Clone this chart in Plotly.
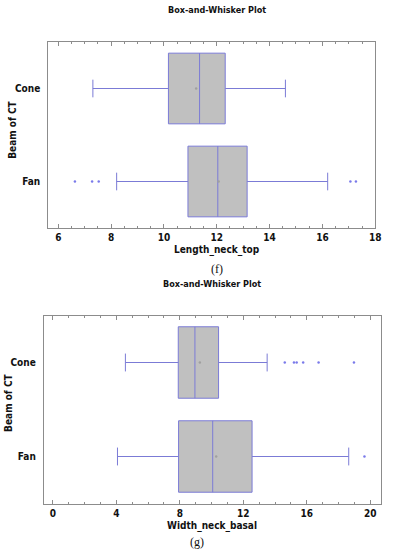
import plotly.graph_objects as go

categories = ["Cone", "Fan"]

# Panel (f): Length_neck_top
f_q1 = [10.17, 10.91]
f_median = [11.35, 12.04]
f_q3 = [12.32, 13.15]
f_low = [7.31, 8.21]
f_high = [14.6, 16.2]
f_mean = [11.22, 12.07]
f_outliers_cone = []
f_outliers_fan = [6.63, 7.28, 7.53, 17.06, 17.27]

# Panel (g): Width_neck_basal
g_q1 = [7.9, 7.92]
g_median = [8.95, 10.07]
g_q3 = [10.44, 12.55]
g_low = [4.57, 4.07]
g_high = [13.5, 18.64]
g_mean = [9.26, 10.29]
g_outliers_cone = [14.61, 15.19, 15.36, 15.77, 16.74, 18.97]
g_outliers_fan = [19.63]

f_ticks = [6, 8, 10, 12, 14, 16, 18]
g_ticks = [0, 4, 8, 12, 16, 20]

BOX_FILL = "#c0c0c0"
BOX_LINE = "#7b7bd6"
OUT_COL = "#7a7aea"
MEAN_COL = "#a0a0a0"
FRAME = "#8c8c8c"
FONT = "DejaVu Sans Condensed, Liberation Sans Narrow, Liberation Sans"

fig = go.Figure()

def add_panel(xa, ya, q1, med, q3, lo, hi, mean, out_cone, out_fan):
    for i, c in enumerate(categories):
        fig.add_trace(go.Box(
            y=[c], q1=[q1[i]], median=[med[i]], q3=[q3[i]],
            lowerfence=[lo[i]], upperfence=[hi[i]],
            orientation="h", width=0.76, whiskerwidth=0.25,
            fillcolor=BOX_FILL, line=dict(color=BOX_LINE, width=1),
            xaxis=xa, yaxis=ya, showlegend=False, hoverinfo="skip"))
    fig.add_trace(go.Scatter(
        x=mean, y=categories, mode="markers",
        marker=dict(color=MEAN_COL, size=2.5), xaxis=xa, yaxis=ya,
        showlegend=False, hoverinfo="skip"))
    ox = out_cone + out_fan
    oy = ["Cone"] * len(out_cone) + ["Fan"] * len(out_fan)
    fig.add_trace(go.Scatter(
        x=ox, y=oy, mode="markers",
        marker=dict(color=OUT_COL, size=2.5), xaxis=xa, yaxis=ya,
        showlegend=False, hoverinfo="skip"))

add_panel("x", "y", f_q1, f_median, f_q3, f_low, f_high, f_mean,
          f_outliers_cone, f_outliers_fan)
add_panel("x2", "y2", g_q1, g_median, g_q3, g_low, g_high, g_mean,
          g_outliers_cone, g_outliers_fan)

tickfont = dict(family=FONT, size=10, color="#111", weight="bold")

def xaxis(domain, anchor, rng, ticks, minor):
    return dict(domain=domain, anchor=anchor, range=rng,
                tickvals=ticks, ticks="inside", ticklen=4, tickcolor=FRAME,
                minor=dict(dtick=minor, ticks="inside", ticklen=2, tickcolor=FRAME,
                           showgrid=False),
                showgrid=False, zeroline=False, showline=True, linecolor=FRAME,
                linewidth=1, mirror="ticks", tickfont=tickfont)

def yaxis(domain, anchor):
    return dict(domain=domain, anchor=anchor, type="category",
                categoryorder="array", categoryarray=["Fan", "Cone"],
                range=[-0.5, 1.5], ticks="", showgrid=False, zeroline=False,
                showline=True, linecolor=FRAME, linewidth=1, mirror=True,
                tickfont=tickfont, ticklabelstandoff=5)

W, H = 395, 550
fig.update_layout(
    width=W, height=H, margin=dict(l=0, r=0, t=0, b=0),
    paper_bgcolor="white", plot_bgcolor="white",
    xaxis=xaxis([49 / W, 381 / W], "y", [5.62, 18.0], f_ticks, 0.5),
    yaxis=yaxis([1 - 228 / H, 1 - 42 / H], "x"),
    xaxis2=xaxis([44.5 / W, 386.5 / W], "y2", [-0.57, 20.65], g_ticks, 1),
    yaxis2=yaxis([1 - 503.5 / H, 1 - 315.5 / H], "x2"),
)

def ann(text, x, y, size, family=FONT, bold=True, angle=0):
    fig.add_annotation(text=text, x=x / W, y=1 - y / H, xref="paper", yref="paper",
                       showarrow=False, textangle=angle,
                       font=dict(family=family, size=size, color="#111",
                                 weight="bold" if bold else "normal"),
                       xanchor="center", yanchor="middle")

ann("Box-and-Whisker Plot", 220, 9.5, 9)
ann("Length_neck_top", 220, 250, 10)
ann("(f)", 220, 268.5, 12, family="Liberation Serif, Times New Roman", bold=False)
ann("Beam of CT", 13, 130, 10, angle=-90)

ann("Box-and-Whisker Plot", 215, 284, 9)
ann("Width_neck_basal", 215, 526, 10)
ann("(g)", 200, 542, 12, family="Liberation Serif, Times New Roman", bold=False)
ann("Beam of CT", 8, 403, 10, angle=-90)

fig.write_html("out.html", config={"displayModeBar": False},
               post_script="document.body.style.margin='0';document.body.style.overflow='hidden';")
